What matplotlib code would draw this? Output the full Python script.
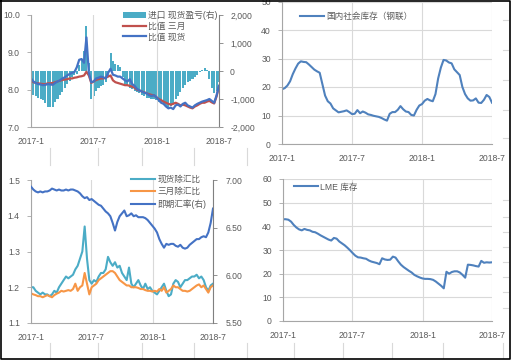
import pandas as pd
import matplotlib
matplotlib.use('Agg')
import matplotlib.pyplot as plt
from matplotlib.lines import Line2D
from matplotlib.ticker import FuncFormatter

plt.rcParams['font.family'] = ['Liberation Sans', 'Noto Sans CJK SC', 'DejaVu Sans']

# weekly samples, 2017-01-01 .. 2018-07-01
dates = pd.date_range('2017-01-01', periods=79, freq='7D')

# top-left: ratio spot / 3M and import profit (right axis)
spot_ratio = [8.30, 8.22, 8.18, 8.15, 8.14, 8.12, 8.13, 8.15, 8.14, 8.13,
              8.18, 8.22, 8.25, 8.30, 8.33, 8.38, 8.42, 8.45, 8.47, 8.60,
              8.80, 8.82, 8.72, 9.40, 8.45, 8.20, 8.22, 8.30, 8.32, 8.35,
              8.33, 8.30, 8.45, 8.56, 8.40, 8.38, 8.35, 8.35, 8.30, 8.25,
              8.22, 8.28, 8.15, 8.10, 8.02, 7.98, 7.95, 7.92, 7.90, 7.85,
              7.83, 7.85, 7.80, 7.72, 7.65, 7.62, 7.55, 7.50, 7.52, 7.48,
              7.58, 7.60, 7.55, 7.62, 7.65, 7.58, 7.55, 7.52, 7.58, 7.62,
              7.65, 7.68, 7.70, 7.72, 7.75, 7.70, 7.65, 7.85, 8.10]
three_ratio = [8.25, 8.20, 8.18, 8.17, 8.16, 8.15, 8.15, 8.17, 8.17, 8.18,
               8.20, 8.22, 8.24, 8.26, 8.27, 8.28, 8.30, 8.30, 8.32, 8.33,
               8.35, 8.36, 8.38, 8.48, 8.38, 8.18, 8.22, 8.26, 8.28, 8.30,
               8.30, 8.32, 8.35, 8.38, 8.25, 8.20, 8.18, 8.16, 8.14, 8.12,
               8.12, 8.10, 8.08, 8.05, 8.00, 7.98, 7.95, 7.93, 7.90, 7.88,
               7.86, 7.85, 7.80, 7.75, 7.72, 7.68, 7.65, 7.62, 7.60, 7.62,
               7.65, 7.62, 7.58, 7.60, 7.58, 7.55, 7.52, 7.50, 7.55, 7.58,
               7.62, 7.65, 7.65, 7.68, 7.70, 7.66, 7.63, 7.82, 8.10]
import_pl = [-600, -850, -900, -950, -1000, -1050, -1150, -1280, -1300, -1280,
             -1100, -1000, -850, -750, -600, -450, -350, -200, -150, -100,
             200, 400, 700, 1600, 300, -1000, -900, -700, -600, -550,
             -500, -400, -200, 650, 350, 250, 200, 150, -200, -450,
             -550, -600, -650, -700, -750, -800, -850, -900, -950, -950,
             -1000, -1000, -1050, -1100, -1150, -1200, -1250, -1300, -1250, -1150,
             -1000, -900, -750, -600, -500, -400, -350, -300, -200, -150,
             -50, 50, 100, 50, -300, -600, -800, -700, -400]

# bottom-left: ratios ex-FX and spot rate (right axis)
spot_fx = [1.20, 1.20, 1.19, 1.185, 1.18, 1.185, 1.18, 1.18, 1.175, 1.18,
           1.19, 1.185, 1.20, 1.21, 1.22, 1.23, 1.225, 1.23, 1.235, 1.25,
           1.26, 1.28, 1.30, 1.37, 1.28, 1.22, 1.21, 1.22, 1.215, 1.23,
           1.24, 1.24, 1.25, 1.285, 1.27, 1.26, 1.27, 1.255, 1.26, 1.24,
           1.23, 1.22, 1.255, 1.21, 1.20, 1.21, 1.22, 1.205, 1.195, 1.21,
           1.195, 1.20, 1.19, 1.185, 1.18, 1.19, 1.20, 1.21, 1.19, 1.175,
           1.18, 1.21, 1.22, 1.215, 1.20, 1.21, 1.22, 1.22, 1.225, 1.23,
           1.23, 1.235, 1.225, 1.23, 1.22, 1.20, 1.19, 1.205, 1.21]
three_fx = [1.183, 1.18, 1.178, 1.175, 1.175, 1.172, 1.175, 1.178, 1.175, 1.172,
            1.178, 1.182, 1.185, 1.19, 1.188, 1.19, 1.192, 1.19, 1.195, 1.21,
            1.19, 1.20, 1.205, 1.24, 1.21, 1.18, 1.20, 1.205, 1.21, 1.22,
            1.225, 1.23, 1.235, 1.24, 1.245, 1.245, 1.24, 1.23, 1.22, 1.215,
            1.21, 1.205, 1.205, 1.20, 1.20, 1.20, 1.198, 1.195, 1.195, 1.192,
            1.19, 1.19, 1.188, 1.19, 1.188, 1.195, 1.19, 1.20, 1.185, 1.19,
            1.195, 1.205, 1.20, 1.20, 1.195, 1.19, 1.19, 1.188, 1.19, 1.195,
            1.20, 1.205, 1.208, 1.20, 1.205, 1.195, 1.185, 1.20, 1.205]
spot_rate = [6.93, 6.90, 6.88, 6.87, 6.88, 6.87, 6.88, 6.88, 6.89, 6.91,
             6.90, 6.89, 6.90, 6.89, 6.89, 6.90, 6.89, 6.90, 6.90, 6.89,
             6.88, 6.86, 6.83, 6.81, 6.82, 6.79, 6.80, 6.78, 6.76, 6.74,
             6.73, 6.70, 6.67, 6.65, 6.62, 6.55, 6.47, 6.56, 6.62, 6.65,
             6.68, 6.62, 6.63, 6.65, 6.62, 6.63, 6.61, 6.61, 6.61, 6.60,
             6.58, 6.55, 6.52, 6.49, 6.45, 6.38, 6.33, 6.29, 6.33, 6.32,
             6.33, 6.33, 6.31, 6.30, 6.32, 6.29, 6.28, 6.29, 6.32, 6.34,
             6.36, 6.38, 6.38, 6.40, 6.41, 6.40, 6.45, 6.55, 6.70]

# right column: inventories
social_stock = [19.2, 19.6, 20.5, 22.0, 24.5, 26.5, 28.2, 29.0, 28.8, 28.7,
                27.9, 27.0, 26.1, 25.5, 25.0, 21.0, 17.0, 15.0, 14.2, 12.5,
                11.8, 11.1, 11.3, 11.5, 11.8, 11.2, 10.5, 10.6, 11.9, 10.8,
                11.4, 11.0, 10.4, 10.2, 9.9, 9.7, 9.5, 9.1, 8.6, 8.2,
                10.6, 11.2, 11.2, 12.0, 13.3, 12.2, 11.4, 11.2, 10.2, 10.0,
                12.0, 13.5, 14.0, 15.2, 15.8, 15.3, 15.0, 17.5, 23.0, 26.8,
                29.5, 29.3, 28.6, 28.3, 26.2, 25.2, 24.2, 20.0, 17.5, 16.0,
                15.2, 15.3, 16.0, 14.5, 14.4, 15.5, 17.2, 16.5, 14.5]
lme_stock = [43.0, 43.0, 42.8, 42.0, 40.6, 39.5, 38.7, 38.3, 38.9, 38.5,
             38.3, 37.7, 37.5, 36.9, 36.2, 35.6, 35.0, 34.4, 34.0, 35.1,
             34.8, 33.6, 32.8, 32.0, 31.0, 29.9, 28.7, 27.6, 26.9, 26.8,
             26.5, 26.3, 25.6, 25.1, 24.8, 24.5, 24.0, 26.5, 26.0, 25.8,
             25.9, 27.2, 26.8, 25.2, 23.8, 22.8, 22.0, 21.2, 20.5, 19.5,
             18.9, 18.4, 18.0, 17.8, 17.8, 17.7, 17.4, 16.7, 15.8, 14.9,
             13.8, 20.8, 20.0, 20.7, 21.0, 21.0, 20.5, 19.5, 18.3, 23.8,
             23.7, 23.5, 23.2, 23.0, 25.4, 24.6, 24.8, 24.7, 24.8]

x_ticks = pd.to_datetime(['2017-01-01', '2017-07-01', '2018-01-01', '2018-07-01'])
x_labels = ['2017-1', '2017-7', '2018-1', '2018-7']

TXT = '#595959'
AX = '#A6A6A6'
GRID = '#D9D9D9'
W, H = 513, 362


def box(x0, y_top, x1, y_bot):
    # pixel box -> figure fraction
    return [x0 / W, 1 - y_bot / H, (x1 - x0) / W, (y_bot - y_top) / H]


def style(ax, hgrid):
    ax.set_xlim(x_ticks[0], x_ticks[-1])
    ax.set_xticks(x_ticks)
    ax.set_xticklabels(x_labels)
    ax.tick_params(axis='x', length=0, pad=7, labelsize=6.2, colors=TXT)
    ax.tick_params(axis='y', length=3, width=0.6, color=AX, pad=5, labelsize=6.2, labelcolor=TXT)
    ax.grid(axis='x', color=GRID, lw=0.8)
    if hgrid:
        ax.grid(axis='y', color=GRID, lw=0.8)
    ax.set_axisbelow(True)
    ax.spines['top'].set_visible(False)
    ax.spines['right'].set_visible(False)
    for s in ('left', 'bottom'):
        ax.spines[s].set_color(AX)
        ax.spines[s].set_linewidth(0.8)


fig = plt.figure(figsize=(5.13, 3.62), dpi=100)

# ---- top-left
ax1 = fig.add_axes(box(31, 15, 219, 127))
ax1r = ax1.twinx()
bars = ax1r.bar(dates, import_pl, width=6, color='#4BACC6', label='进口 现货盈亏(右)')
ax1r.set_ylim(-2000, 2000)
ax1r.set_yticks([-2000, -1000, 0, 1000, 2000])
ax1r.yaxis.set_major_formatter(FuncFormatter(lambda v, p: f'{v:,.0f}'))
l1, = ax1.plot(dates, three_ratio, color='#C0504D', lw=1.6, label='比值 三月')
l2, = ax1.plot(dates, spot_ratio, color='#4472C4', lw=1.6, label='比值 现货')
ax1.set_ylim(7, 10)
ax1.set_yticks([7, 8, 9, 10])
ax1.yaxis.set_major_formatter(FuncFormatter(lambda v, p: f'{v:.1f}'))
style(ax1, False)
ax1.set_zorder(ax1r.get_zorder() + 1)
ax1.patch.set_visible(False)
ax1r.tick_params(axis='y', length=3, width=0.6, color='#808080', pad=5, labelsize=6.2, labelcolor=TXT)
for s in ('top', 'left', 'bottom'):
    ax1r.spines[s].set_visible(False)
ax1r.spines['right'].set_color('#808080')
ax1.legend([bars, l1, l2], ['进口 现货盈亏(右)', '比值 三月', '比值 现货'],
           loc='upper left', bbox_to_anchor=(0.47, 1.07), frameon=False,
           fontsize=6.3, handlelength=2.6, handleheight=0.8, labelspacing=0.2,
           borderaxespad=0, handletextpad=0.3, labelcolor=TXT)

# ---- bottom-left
ax2 = fig.add_axes(box(31, 180, 213, 323))
ax2r = ax2.twinx()
l3, = ax2.plot(dates, spot_fx, color='#4BACC6', lw=1.5)
l4, = ax2.plot(dates, three_fx, color='#F79646', lw=1.5)
l5, = ax2r.plot(dates, spot_rate, color='#4472C4', lw=1.5)
ax2.set_ylim(1.1, 1.5)
ax2.set_yticks([1.1, 1.2, 1.3, 1.4, 1.5])
ax2.yaxis.set_major_formatter(FuncFormatter(lambda v, p: f'{v:.1f}'))
ax2r.set_ylim(5.5, 7.0)
ax2r.set_yticks([5.5, 6.0, 6.5, 7.0])
ax2r.yaxis.set_major_formatter(FuncFormatter(lambda v, p: f'{v:.2f}'))
style(ax2, False)
ax2r.tick_params(axis='y', length=3, width=0.6, color='#808080', pad=6, labelsize=6.2, labelcolor=TXT)
for s in ('top', 'left', 'bottom'):
    ax2r.spines[s].set_visible(False)
ax2r.spines['right'].set_color('#808080')
ax2.legend([l3, l4, l5], ['现货除汇比', '三月除汇比', '即期汇率(右)'],
           loc='upper left', bbox_to_anchor=(0.53, 1.06), frameon=False,
           fontsize=6.2, handlelength=2.8, labelspacing=0.4,
           borderaxespad=0, handletextpad=0.3, labelcolor=TXT)

# ---- top-right
ax3 = fig.add_axes(box(282, 1.5, 492, 144))
ax3.plot(dates, social_stock, color='#4F81BD', lw=1.5, label='国内社会库存（钢联）')
ax3.set_ylim(0, 50)
ax3.set_yticks([0, 10, 20, 30, 40, 50])
style(ax3, True)
ax3.legend(loc='upper left', bbox_to_anchor=(0.07, 0.95), frameon=False,
           fontsize=6.2, handlelength=2.8, borderaxespad=0, handletextpad=0.2,
           labelcolor=TXT)

# ---- bottom-right
ax4 = fig.add_axes(box(283, 179, 492, 321))
ax4.plot(dates, lme_stock, color='#4F81BD', lw=1.5, label='LME 库存')
ax4.set_ylim(0, 60)
ax4.set_yticks([0, 10, 20, 30, 40, 50, 60])
style(ax4, True)
ax4.legend(loc='upper left', bbox_to_anchor=(0.035, 1.0), frameon=False,
           fontsize=6.2, handlelength=2.8, borderaxespad=0, handletextpad=0.2,
           labelcolor=TXT)

# leftover axis stubs from neighbouring charts and outer frame
for xp in [50, 98, 142, 194, 247]:
    fig.add_artist(Line2D([xp / W] * 2, [1 - 148 / H, 1 - 165 / H], color=GRID, lw=0.8))
for xp in [50, 98, 142, 194, 247, 294, 343, 392, 443, 503]:
    fig.add_artist(Line2D([xp / W] * 2, [1 - 343 / H, 1 - 358 / H], color=GRID, lw=0.8))
for yp in [20, 50, 80, 110, 138, 200, 217, 232, 247, 262, 277, 292, 308]:
    fig.add_artist(Line2D([503 / W, 508 / W], [1 - yp / H] * 2, color=GRID, lw=0.8))
frame = [(0.5, 0.5), (510, 0.5), (510, 359), (0.5, 359), (0.5, 0.5)]
fig.add_artist(Line2D([p[0] / W for p in frame], [1 - p[1] / H for p in frame],
                      color='black', lw=1.2))

fig.savefig('out.png', dpi=100)
